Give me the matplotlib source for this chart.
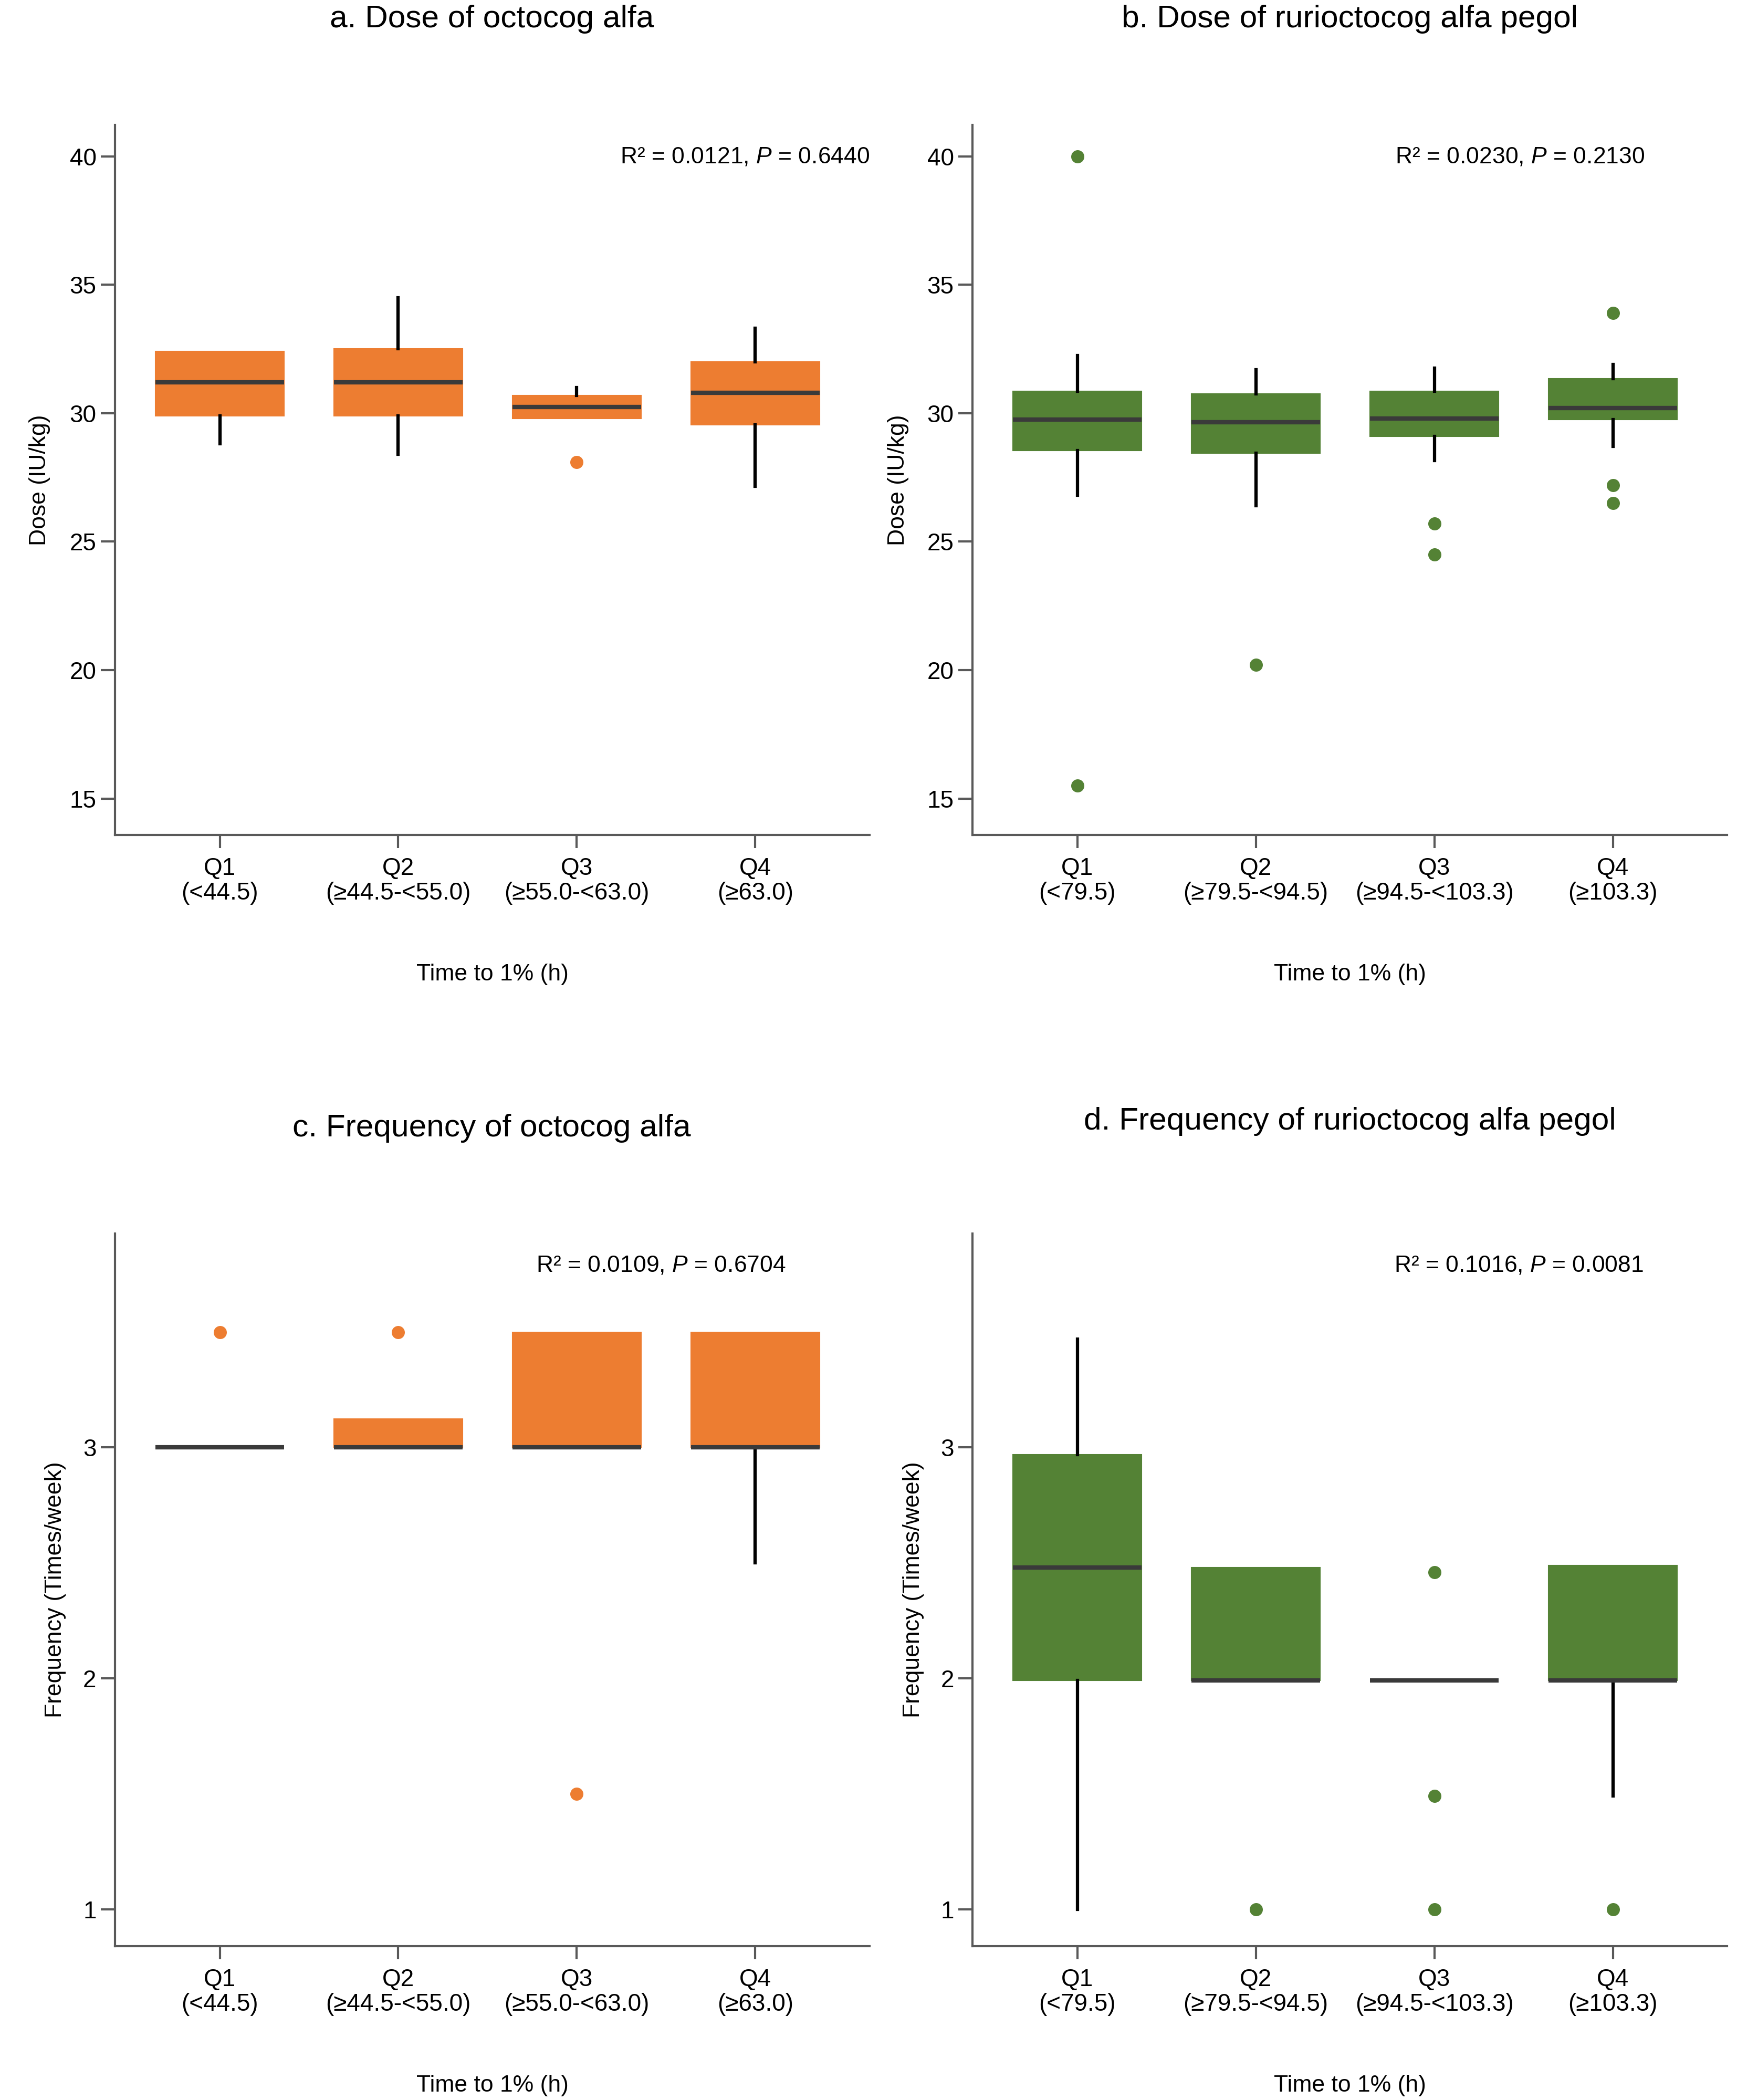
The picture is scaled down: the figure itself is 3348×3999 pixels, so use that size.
import matplotlib

matplotlib.use("Agg")
import matplotlib.pyplot as plt
from matplotlib import font_manager

# quartile groups of time to 1% (h)
octocog_groups = ["Q1\n(<44.5)", "Q2\n(≥44.5-<55.0)", "Q3\n(≥55.0-<63.0)", "Q4\n(≥63.0)"]
rurioctocog_groups = ["Q1\n(<79.5)", "Q2\n(≥79.5-<94.5)", "Q3\n(≥94.5-<103.3)", "Q4\n(≥103.3)"]

# box stats: whislo, q1, median, q3, whishi
octocog_dose = [
    [28.8, 29.9, 31.2, 32.4, 32.4],
    [28.4, 29.9, 31.2, 32.5, 34.5],
    [29.8, 29.8, 30.25, 30.7, 31.0],
    [27.15, 29.55, 30.8, 32.0, 33.3],
]
octocog_dose_fliers = [[], [], [28.1], []]

rurioctocog_dose = [
    [26.8, 28.55, 29.75, 30.85, 32.25],
    [26.4, 28.45, 29.65, 30.75, 31.7],
    [28.15, 29.1, 29.8, 30.85, 31.75],
    [28.7, 29.75, 30.2, 31.35, 31.9],
]
rurioctocog_dose_fliers = [[40.0, 15.5], [20.2], [25.7, 24.5], [33.9, 27.2, 26.5]]

octocog_freq = [
    [3.0, 3.0, 3.0, 3.0, 3.0],
    [3.0, 3.0, 3.0, 3.125, 3.125],
    [3.0, 3.0, 3.0, 3.5, 3.5],
    [2.5, 3.0, 3.0, 3.5, 3.5],
]
octocog_freq_fliers = [[3.5], [3.5], [1.5], []]

rurioctocog_freq = [
    [1.0, 1.99, 2.48, 2.97, 3.47],
    [1.99, 1.99, 1.99, 2.48, 2.48],
    [1.99, 1.99, 1.99, 1.99, 1.99],
    [1.49, 1.99, 1.99, 2.49, 2.49],
]
rurioctocog_freq_fliers = [[], [1.0], [2.46, 1.49, 1.0], [1.0]]

annotations = [
    "R² = 0.0121, $\\it{P}$ = 0.6440",
    "R² = 0.0230, $\\it{P}$ = 0.2130",
    "R² = 0.0109, $\\it{P}$ = 0.6704",
    "R² = 0.1016, $\\it{P}$ = 0.0081",
]
titles = [
    "a. Dose of octocog alfa",
    "b. Dose of rurioctocog alfa pegol",
    "c. Frequency of octocog alfa",
    "d. Frequency of rurioctocog alfa pegol",
]

ORANGE = "#ED7D31"
GREEN = "#548235"
AXIS_GREY = "#595959"

installed = {f.name for f in font_manager.fontManager.ttflist}
NARROW = "Liberation Sans Narrow" if "Liberation Sans Narrow" in installed else "Liberation Sans"

plt.rcParams["font.family"] = ["Liberation Sans", "DejaVu Sans"]
plt.rcParams["mathtext.fontset"] = "custom"
plt.rcParams["mathtext.rm"] = "Liberation Sans"
plt.rcParams["mathtext.it"] = "Liberation Sans:italic"


def make_stats(rows, fliers):
    return [
        dict(whislo=r[0], q1=r[1], med=r[2], q3=r[3], whishi=r[4], fliers=f)
        for r, f in zip(rows, fliers)
    ]


def draw_panel(ax, stats, color, groups, ylim, yticks, ylabel, ylabel_x, note, note_x):
    ax.bxp(
        stats,
        positions=range(len(stats)),
        widths=0.72,
        patch_artist=True,
        showcaps=False,
        boxprops=dict(facecolor=color, edgecolor=color, linewidth=0.5),
        whiskerprops=dict(color="black", linewidth=1.5),
        medianprops=dict(color="#3a3a3a", linewidth=2.0),
        flierprops=dict(
            marker="o", markerfacecolor=color, markeredgecolor="none", markersize=6
        ),
    )
    ax.set_xlim(-0.587, 3.64)
    ax.set_ylim(*ylim)
    ax.set_yticks(yticks)
    ax.set_xticks(range(len(groups)))
    ax.set_xticklabels(groups, fontsize=11, family=[NARROW, "DejaVu Sans"], linespacing=1.1)
    ax.tick_params(axis="y", labelsize=11, length=6.5, width=1, color=AXIS_GREY, pad=2)
    ax.tick_params(axis="x", length=6, width=1, color=AXIS_GREY, pad=4)
    for side in ["top", "right"]:
        ax.spines[side].set_visible(False)
    for side in ["left", "bottom"]:
        ax.spines[side].set_color(AXIS_GREY)
        ax.spines[side].set_linewidth(1.0)

    ax.set_ylabel(ylabel, fontsize=10.7, va="center")
    ax.yaxis.set_label_coords(ylabel_x, 0.5)
    ax.set_xlabel("Time to 1% (h)", fontsize=10.7, va="center")
    ax.xaxis.set_label_coords(0.5, -0.196)
    ax.text(note_x, 0.955, note, transform=ax.transAxes, ha="right", va="center", fontsize=10.7)


def main():
    fig = plt.figure(figsize=(3348 / 300, 3999 / 300), dpi=300)

    lefts = [0.0654, 0.5532]
    width = 0.4292
    ax_a = fig.add_axes([lefts[0], 0.6024, width, 0.3381])
    ax_b = fig.add_axes([lefts[1], 0.6024, width, 0.3381])
    ax_c = fig.add_axes([lefts[0], 0.0733, width, 0.3393])
    ax_d = fig.add_axes([lefts[1], 0.0733, width, 0.3393])

    dose_ylim = (13.58, 41.22)
    dose_ticks = [15, 20, 25, 30, 35, 40]
    freq_ylim = (0.84, 3.927)
    freq_ticks = [1, 2, 3]

    draw_panel(ax_a, make_stats(octocog_dose, octocog_dose_fliers), ORANGE,
               octocog_groups, dose_ylim, dose_ticks, "Dose (IU/kg)", -0.0996,
               annotations[0], 1.0)
    draw_panel(ax_b, make_stats(rurioctocog_dose, rurioctocog_dose_fliers), GREEN,
               rurioctocog_groups, dose_ylim, dose_ticks, "Dose (IU/kg)", -0.0987,
               annotations[1], 0.891)
    draw_panel(ax_c, make_stats(octocog_freq, octocog_freq_fliers), ORANGE,
               octocog_groups, freq_ylim, freq_ticks, "Frequency (Times/week)", -0.079,
               annotations[2], 0.889)
    draw_panel(ax_d, make_stats(rurioctocog_freq, rurioctocog_freq_fliers), GREEN,
               rurioctocog_groups, freq_ylim, freq_ticks, "Frequency (Times/week)", -0.0786,
               annotations[3], 0.889)

    # panel titles sit well above each axes
    title_pos = [(0.2797, 0.9870), (0.7678, 0.9870), (0.2797, 0.4589), (0.7678, 0.4622)]
    for (x, y), title in zip(title_pos, titles):
        fig.text(x, y, title, ha="center", va="baseline", fontsize=14.5)

    fig.savefig("out.png", dpi=300, facecolor="white")


if __name__ == "__main__":
    main()
